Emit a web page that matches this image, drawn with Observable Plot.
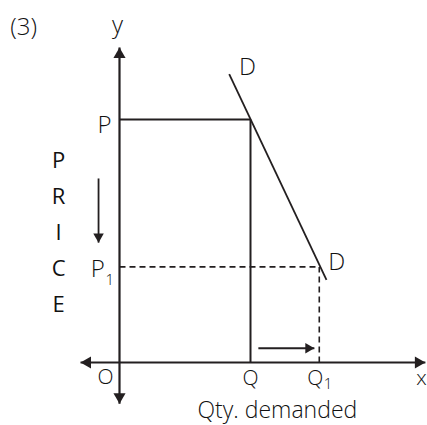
<!DOCTYPE html>
<html>
<head>
<meta charset="utf-8">
<script src="https://cdn.jsdelivr.net/npm/d3@7"></script>
<script src="https://cdn.jsdelivr.net/npm/@observablehq/plot@0.6"></script>
<style>
  html, body { margin: 0; padding: 0; background: #fff; }
  svg { display: block; }
</style>
</head>
<body>
<div id="chart"></div>
<script>
// ---- chart values (in diagram units; origin O = (0,0)) ----
const priceP = 7.5;        // original price P
const priceP1 = 2.95;      // lower price P1
const qtyQ = 4;            // quantity Q
const qtyQ1 = 6.1;         // quantity Q1
const demandTop = [3.35, 8.9];    // upper end of demand line D
const demandBottom = [6.32, 2.55]; // lower end of demand line D
const xAxisEnds = [-1.19, 9.34];
const yAxisEnds = [-1.27, 9.72];
const priceArrow = {x: -0.64, y1: 5.68, y2: 3.7};  // falling price arrow
const qtyArrow = {y: 0.44, x1: 4.24, x2: 5.95};    // rising quantity arrow
const priceLetters = ["P", "R", "I", "C", "E"];
const priceLetterY = [6.23, 5.12, 4.01, 2.90, 1.79];
const priceLetterX = -1.86;
const labels = [
  {text: "(3)", x: -2.93, y: 10.34},
  {text: "y", x: -0.06, y: 10.4},
  {text: "D", x: 3.91, y: 9.10},
  {text: "P", x: -0.46, y: 7.31},
  {text: "D", x: 6.63, y: 3.09},
  {text: "P", x: -0.66, y: 2.87}
];
const axisLabels = [
  {text: "O", x: -0.43, y: -0.45},
  {text: "Q", x: 4.0, y: -0.5},
  {text: "Q", x: 5.98, y: -0.5},
  {text: "x", x: 9.22, y: -0.5}
];
const axisTitle = [{text: "Qty. demanded", x: 4.82, y: -1.48}];
const subscripts = [
  {text: "1", x: -0.3, y: 2.55},
  {text: "1", x: 6.37, y: -0.66}
];

// ---- derived tables ----
const ink = "#231f20";
const W = 427, H = 425;
const solidLines = [
  {x1: xAxisEnds[0], y1: 0, x2: xAxisEnds[1], y2: 0, w: 2.2},
  {x1: 0, y1: yAxisEnds[0], x2: 0, y2: yAxisEnds[1], w: 2.2},
  {x1: 0, y1: priceP, x2: qtyQ, y2: priceP, w: 2},
  {x1: qtyQ, y1: 0, x2: qtyQ, y2: priceP, w: 2},
  {x1: demandTop[0], y1: demandTop[1], x2: demandBottom[0], y2: demandBottom[1], w: 1.8},
  {x1: priceArrow.x, y1: priceArrow.y1, x2: priceArrow.x, y2: priceArrow.y2, w: 1.8},
  {x1: qtyArrow.x1, y1: qtyArrow.y, x2: qtyArrow.x2, y2: qtyArrow.y, w: 1.8}
];
const dashedLines = [
  {x1: 0, y1: priceP1, x2: qtyQ1, y2: priceP1},
  {x1: qtyQ1, y1: 0, x2: qtyQ1, y2: priceP1}
];
const lettersData = priceLetters.map((t, i) => ({text: t, x: priceLetterX, y: priceLetterY[i]}));

function head(points, rotate, dx, dy, r) {
  return Plot.dot(points, {x: "x", y: "y", symbol: "triangle", r, rotate, dx, dy, fill: ink, stroke: "none"});
}

const fontFamily = "'Open Sans', sans-serif";
const txt = "#111";

const plot = Plot.plot({
  width: W,
  height: H,
  margin: 0,
  x: {domain: [-119 / 32.75, (W - 119) / 32.75]},
  y: {domain: [-(H - 362) / 32.4, 362 / 32.4]},
  axis: null,
  style: {background: "#fff", fontFamily},
  marks: [
    Plot.link(solidLines, {x1: "x1", y1: "y1", x2: "x2", y2: "y2", stroke: ink, strokeWidth: "w"}),
    Plot.link(dashedLines, {x1: "x1", y1: "y1", x2: "x2", y2: "y2", stroke: ink, strokeWidth: 1.6, strokeDasharray: "6,4"}),
    // axis arrowheads
    head([{x: xAxisEnds[1], y: 0}], 90, -7, 0, 4.5),
    head([{x: xAxisEnds[0], y: 0}], 270, 7, 0, 4.5),
    head([{x: 0, y: yAxisEnds[1]}], 0, 0, 7, 4.5),
    head([{x: 0, y: yAxisEnds[0]}], 180, 0, -7, 4.5),
    // small arrows
    head([{x: priceArrow.x, y: priceArrow.y2}], 180, 0, -6, 3.9),
    head([{x: qtyArrow.x2, y: qtyArrow.y}], 90, -6, 0, 3.9),
    Plot.text(labels, {x: "x", y: "y", text: "text", fontSize: 24, fill: txt, fontWeight: 300}),
    Plot.text(axisLabels, {x: "x", y: "y", text: "text", fontSize: 21, fill: txt, fontWeight: 300}),
    Plot.text(axisTitle, {x: "x", y: "y", text: "text", fontSize: 23, fill: txt, fontWeight: 300}),
    Plot.text(lettersData, {x: "x", y: "y", text: "text", fontSize: 22, fill: txt, fontWeight: 400}),
    Plot.text(subscripts, {x: "x", y: "y", text: "text", fontSize: 15, fill: txt, fontWeight: 300})
  ]
});
document.getElementById("chart").appendChild(plot);
</script>
</body>
</html>
